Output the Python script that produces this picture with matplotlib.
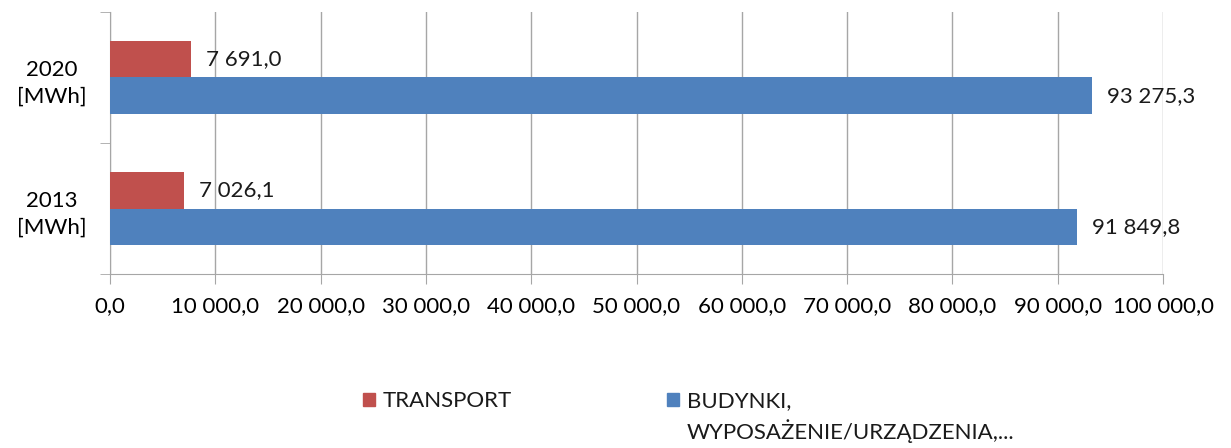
import matplotlib.pyplot as plt
import numpy as np
from matplotlib.patches import Rectangle
from matplotlib.ticker import FuncFormatter, FixedLocator

categories = ['2013\n[MWh]', '2020\n[MWh]']
transport = [7026.1, 7691.0]
budynki = [91849.8, 93275.3]
series_names = ['TRANSPORT', 'BUDYNKI,\nWYPOSAŻENIE/URZĄDZENIA,...']

red = '#C0504D'
blue = '#4F81BD'
grid_col = '#A6A6A6'

plt.rcParams['font.family'] = ['Lato', 'DejaVu Sans']
plt.rcParams['font.size'] = 16


def pl_fmt(v, pos=None):
    s = '{:,.1f}'.format(v)
    return s.replace(',', ' ').replace('.', ',')


W, H = 1231, 448
fig = plt.figure(figsize=(W / 100, H / 100), dpi=100)
ax = fig.add_axes([110 / W, 1 - 274 / H, (1163 - 110) / W, (274 - 12) / H])

y = np.arange(len(categories))
h = 0.28
b1 = ax.barh(y + h / 2, transport, height=h, color=red, zorder=3)
b2 = ax.barh(y - h / 2, budynki, height=h, color=blue, zorder=3)

for bars, vals in [(b1, transport), (b2, budynki)]:
    for bar, v in zip(bars, vals):
        ax.annotate(pl_fmt(v), (v, bar.get_y() + bar.get_height() / 2),
                    xytext=(11, 0), textcoords='offset points',
                    va='center', ha='left', color='#1a1a1a')

ax.set_xlim(0, 100000)
ax.set_ylim(-0.5, 1.5)
ax.xaxis.set_major_locator(FixedLocator(np.arange(0, 100001, 10000)))
ax.xaxis.set_major_formatter(FuncFormatter(pl_fmt))
ax.set_yticks(y)
ax.set_yticklabels(categories, multialignment='center', linespacing=1.45)
ax.yaxis.set_minor_locator(FixedLocator([-0.5, 0.5, 1.5]))
ax.tick_params(axis='y', which='major', length=0, pad=17)
ax.tick_params(axis='y', which='minor', length=7, color=grid_col)
ax.tick_params(axis='x', length=7, color=grid_col, pad=9)
ax.grid(axis='x', color=grid_col, linewidth=1, zorder=0)
for s in ['top', 'right']:
    ax.spines[s].set_visible(False)
for s in ['left', 'bottom']:
    ax.spines[s].set_color(grid_col)

# legend drawn by hand so the square lines up with the first text line
leg = [(363, series_names[0], red), (667, series_names[1], blue)]
for x0, name, col in leg:
    fig.add_artist(Rectangle((x0 / W, 1 - 406 / H), 12 / W, 13 / H,
                             transform=fig.transFigure, color=col))
    fig.text((x0 + 20) / W, 1 - 391 / H, name, va='top', ha='left',
             linespacing=1.4, color='#1a1a1a')

plt.savefig('out.png', dpi=100)
